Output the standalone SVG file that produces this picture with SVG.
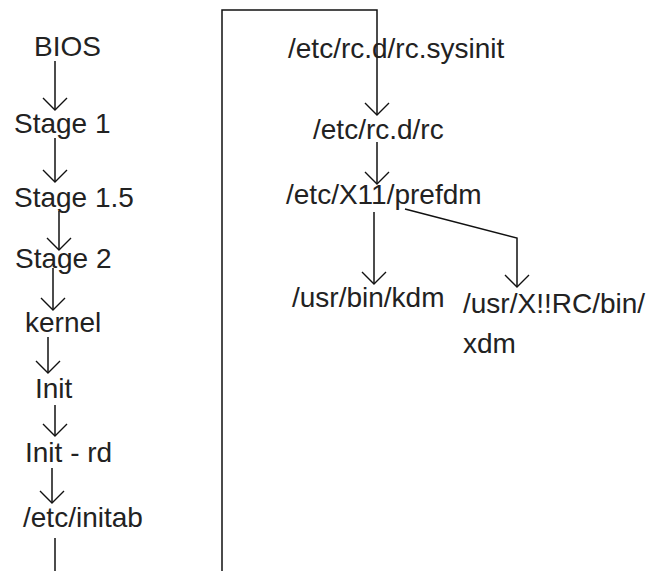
<svg xmlns="http://www.w3.org/2000/svg" width="654" height="571" viewBox="0 0 654 571">
<style>
text{font-family:"Liberation Sans",Arial,sans-serif;font-size:28px;fill:#222}
.c{stroke:#111;stroke-width:1.5;fill:none}
</style>
<defs>
<marker id="v" markerWidth="14" markerHeight="26" refX="13" refY="13" markerUnits="userSpaceOnUse" orient="auto" viewBox="0 0 14 26">
<path d="M1,1 L13,13 L1,25" fill="none" stroke="#111" stroke-width="1.4"/>
</marker>
</defs>
<rect width="654" height="571" fill="#fff"/>
<g id="connectors">
<path class="c" d="M55,61 V110" marker-end="url(#v)"/>
<path class="c" d="M55,138 V182" marker-end="url(#v)"/>
<path class="c" d="M59,211 V250" marker-end="url(#v)"/>
<path class="c" d="M53,268 V310" marker-end="url(#v)"/>
<path class="c" d="M48,337 V373" marker-end="url(#v)"/>
<path class="c" d="M55,405 V436" marker-end="url(#v)"/>
<path class="c" d="M52,468 V503" marker-end="url(#v)"/>
<path class="c" d="M55,538 V571"/>
<path class="c" d="M222,571 V10 H377 V115" marker-end="url(#v)"/>
<path class="c" d="M377,142 V184" marker-end="url(#v)"/>
<path class="c" d="M374,212 V284" marker-end="url(#v)"/>
<path class="c" d="M405,209 L517,238 V287" marker-end="url(#v)"/>
</g>
<g id="bios"><text x="34" y="56">BIOS</text></g>
<g id="stage1"><text x="14" y="133">Stage 1</text></g>
<g id="stage15"><text x="14" y="207">Stage 1.5</text></g>
<g id="stage2"><text x="15" y="268">Stage 2</text></g>
<g id="kernel"><text x="25" y="332">kernel</text></g>
<g id="init"><text x="35" y="398">Init</text></g>
<g id="initrd"><text x="25" y="462">Init - rd</text></g>
<g id="inittab"><text x="23" y="527">/etc/initab</text></g>
<g id="sysinit"><text x="288" y="58">/etc/rc.d/rc.sysinit</text></g>
<g id="rc"><text x="313" y="139">/etc/rc.d/rc</text></g>
<g id="prefdm"><text x="286" y="204">/etc/X11/prefdm</text></g>
<g id="kdm"><text x="292" y="307">/usr/bin/kdm</text></g>
<g id="xdm"><text x="463" y="313">/usr/X!!RC/bin/</text><text x="463" y="353">xdm</text></g>
</svg>
